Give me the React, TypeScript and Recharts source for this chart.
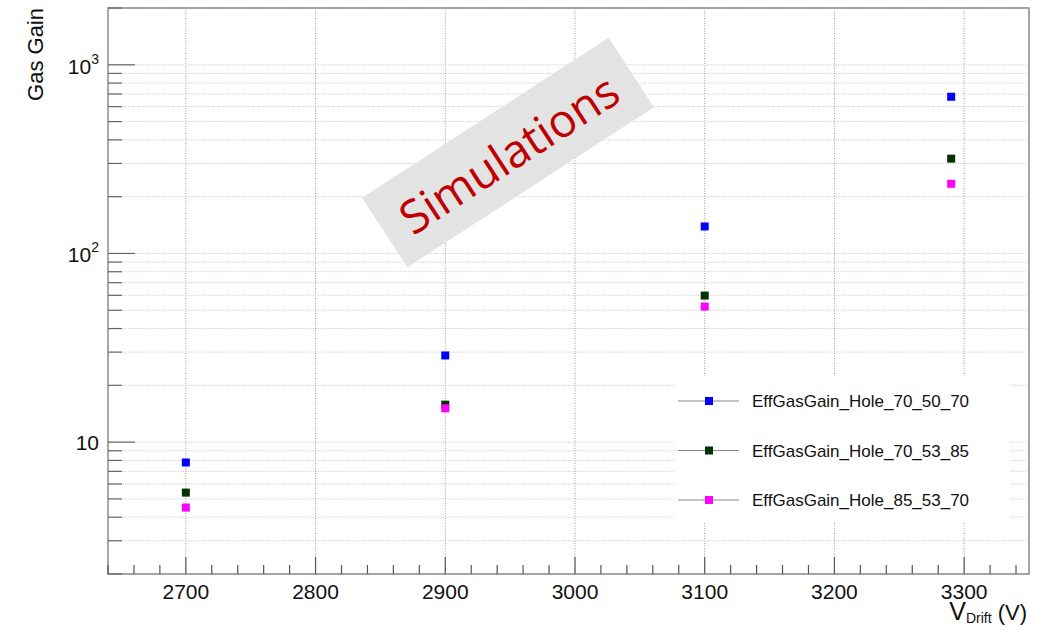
import {
  ScatterChart,
  Scatter,
  XAxis,
  YAxis,
  CartesianGrid,
  ReferenceLine,
  ReferenceArea,
  Legend,
} from "recharts";

// Drift voltage (V) for every measured point
const voltages = [2700, 2900, 3100, 3290];

// Effective gas gain per hole geometry
const gainHole_70_50_70 = [7.8, 28.8, 139, 677];
const gainHole_70_53_85 = [5.4, 15.8, 59.8, 318];
const gainHole_85_53_70 = [4.5, 15.1, 52.3, 234];

const seriesNames = [
  "EffGasGain_Hole_70_50_70",
  "EffGasGain_Hole_70_53_85",
  "EffGasGain_Hole_85_53_70",
];
const seriesColors = ["#0000ff", "#003300", "#ff00ff"];
const seriesValues = [gainHole_70_50_70, gainHole_70_53_85, gainHole_85_53_70];

const xMajorTicks = [2700, 2800, 2900, 3000, 3100, 3200, 3300];
const xDomain = [2640, 3350];
const yDecades = [10, 100, 1000];
const yDomain = [2, 2000];

// minor ticks: every 20 V on x, 1..9 per decade on y
const xTicks: number[] = [];
for (let v = xDomain[0]; v <= xDomain[1]; v += 20) xTicks.push(v);

const yTicks: number[] = [];
[1, 10, 100, 1000].forEach((d) => {
  for (let m = 1; m <= 9; m++) {
    const v = m * d;
    if (v >= yDomain[0] && v <= yDomain[1]) yTicks.push(v);
  }
});

const series = seriesNames.map((name, i) => ({
  name,
  color: seriesColors[i],
  data: voltages.map((x, j) => ({ x, y: seriesValues[i][j] })),
}));

const FONT = "'Liberation Sans', Arial, Helvetica, sans-serif";

const XTick = (props: any) => {
  const { x, y, payload } = props;
  const v = payload.value;
  const major = xMajorTicks.includes(v);
  return (
    <g>
      <line
        x1={x}
        x2={x}
        y1={y}
        y2={y - (major ? 17 : 9)}
        stroke="#555"
        strokeWidth={1.2}
      />
      {major && (
        <text
          x={x}
          y={y + 25}
          textAnchor="middle"
          fontSize={21}
          fontFamily={FONT}
          fill="#111"
        >
          {v}
        </text>
      )}
    </g>
  );
};

const YTick = (props: any) => {
  const { x, y, payload } = props;
  const v = payload.value;
  const major = yDecades.includes(v);
  const exp = Math.round(Math.log10(v));
  return (
    <g>
      <line
        x1={x}
        x2={x + (major ? 27 : 14)}
        y1={y}
        y2={y}
        stroke="#666"
        strokeWidth={1.2}
      />
      {major && (
        <text
          x={x - 9}
          y={y + (exp === 1 ? 7.5 : 9)}
          textAnchor="end"
          fontSize={21}
          fontFamily={FONT}
          fill="#111"
        >
          10
          {exp > 1 && (
            <tspan fontSize={14} dy={-10}>
              {exp}
            </tspan>
          )}
        </text>
      )}
    </g>
  );
};

const square = (color: string, size: number) => (props: any) => {
  const { cx, cy } = props;
  return (
    <rect
      x={cx - size / 2}
      y={cy - size / 2}
      width={size}
      height={size}
      fill={color}
    />
  );
};

const renderLegend = () => (
  <svg width={335} height={146} style={{ display: "block", background: "#fff" }}>
    {series.map((s, i) => {
      const cy = 25 + i * 49.5;
      return (
        <g key={s.name}>
          <line x1={3} x2={64} y1={cy} y2={cy} stroke="#888" strokeWidth={1.2} />
          <rect x={30} y={cy - 4} width={8} height={8} fill={s.color} />
          <text
            x={77}
            y={cy + 6}
            fontSize={17}
            fontFamily={FONT}
            fill="#111"
          >
            {s.name}
          </text>
        </g>
      );
    })}
  </svg>
);

export default function App() {
  return (
    <div
      style={{
        position: "absolute",
        left: 0,
        top: 0,
        width: 1051,
        height: 627,
        background: "#fff",
      }}
    >
      <ScatterChart
        width={1051}
        height={627}
        margin={{ top: 8, right: 22, left: 0, bottom: 0 }}
      >
        <CartesianGrid
          vertical={false}
          stroke="#c4c4c4"
          strokeDasharray="1 1.5"
        />
        {xMajorTicks.map((v) => (
          <ReferenceLine
            key={v}
            x={v}
            stroke="#9a9a9a"
            strokeDasharray="1 1.5"
          />
        ))}
        <XAxis
          type="number"
          dataKey="x"
          domain={xDomain}
          ticks={xTicks}
          interval={0}
          allowDataOverflow
          height={53}
          axisLine={false}
          tickLine={false}
          tickSize={0}
          tickMargin={0}
          tick={<XTick />}
        />
        <YAxis
          type="number"
          dataKey="y"
          scale="log"
          domain={yDomain}
          ticks={yTicks}
          interval={0}
          allowDataOverflow
          width={108}
          axisLine={false}
          tickLine={false}
          tickSize={0}
          tickMargin={0}
          tick={<YTick />}
        />
        <ReferenceArea
          x1={xDomain[0]}
          x2={xDomain[1]}
          y1={yDomain[0]}
          y2={yDomain[1]}
          fill="none"
          stroke="#8a8a8a"
          strokeWidth={1.5}
          ifOverflow="visible"
        />
        {series.map((s) => (
          <Scatter
            key={s.name}
            name={s.name}
            data={s.data}
            fill={s.color}
            shape={square(s.color, 8)}
            isAnimationActive={false}
          />
        ))}
        <Legend
          layout="vertical"
          align="center"
          verticalAlign="middle"
          width={335}
          height={146}
          wrapperStyle={{ left: 675, top: 376, width: 335, height: 146 }}
          content={renderLegend}
        />
        <text
          x={43}
          y={8}
          transform="rotate(-90, 43, 8)"
          textAnchor="end"
          fontSize={22}
          fontFamily={FONT}
          fill="#111"
        >
          Gas Gain
        </text>
        <text
          x={1027}
          y={620}
          textAnchor="end"
          fontFamily={FONT}
          fill="#111"
        >
          <tspan fontSize={25}>V</tspan>
          <tspan fontSize={14} dy={3}>
            Drift
          </tspan>
          <tspan fontSize={22} dy={-3}>
            {" (V)"}
          </tspan>
        </text>
      </ScatterChart>
      <div
        style={{
          position: "absolute",
          left: 361,
          top: 111,
          width: 294,
          height: 83,
          background: "#e3e3e3",
          transform: "rotate(-33deg)",
          display: "flex",
          alignItems: "center",
          justifyContent: "center",
          color: "#c00000",
          fontFamily: "'Open Sans', 'Noto Sans', sans-serif",
          fontSize: 46,
          lineHeight: 1,
        }}
      >
        Simulations
      </div>
    </div>
  );
}
